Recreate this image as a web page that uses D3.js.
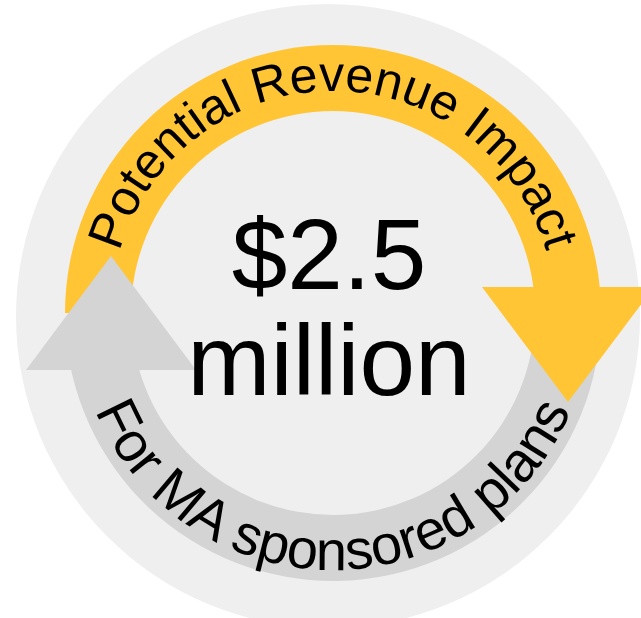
<!DOCTYPE html>
<html>
<head>
<meta charset="utf-8">
<script src="https://cdn.jsdelivr.net/npm/d3@7"></script>
<style>
  body { margin: 0; background: #fff; }
  svg { display: block; }
</style>
</head>
<body>
<div id="chart"></div>
<script>
// ring labels, the headline figure and the arc spans (degrees, 0 = 12 o'clock)
var ringLabels = ["Potential Revenue Impact", "For MA sponsored plans"]
var headline = ["$2.5", "million"]
var arcStart = [-90, 90]
var arcEnd = [90, 268]

var width = 641
var height = 618
var cx = 333, cy = 313
var innerR = 202, outerR = 268

var color = d3.scaleOrdinal().domain(ringLabels).range(["#FFC535", "#D4D4D4"])
var rad = d3.scaleLinear().domain([0, 360]).range([0, 2 * Math.PI])

var svg = d3.select("#chart")
  .append("svg")
    .attr("width", width)
    .attr("height", height)

// big pale disc behind everything
svg.append("circle")
  .attr("cx", 328)
  .attr("cy", 316)
  .attr("r", 312)
  .attr("fill", "#EFEFEF")

var g = svg.append("g")
  .attr("transform", "translate(" + cx + "," + cy + ")")

var arc = d3.arc()
  .innerRadius(innerR)
  .outerRadius(outerR)

var segs = ringLabels.map(function(d, i){
  return {name: d, startAngle: rad(arcStart[i]), endAngle: rad(arcEnd[i])}
})

// grey band first, yellow band over it
g.selectAll("path.band")
  .data([segs[1], segs[0]])
  .enter()
  .append("path")
    .attr("class", "band")
    .attr("d", arc)
    .attr("fill", function(d){ return color(d.name) })

// arrow heads
var midR = (innerR + outerR) / 2
var heads = [
  {name: ringLabels[0], x: midR, base: -26, tip: 89, half: 86},
  {name: ringLabels[1], x: -222, base: 57, tip: -57, half: 85}
]
g.selectAll("path.head")
  .data(heads)
  .enter()
  .append("path")
    .attr("class", "head")
    .attr("d", function(d){
      return "M" + (d.x - d.half) + "," + d.base +
        "L" + (d.x + d.half) + "," + d.base +
        "L" + d.x + "," + d.tip + "Z"
    })
    .attr("fill", function(d){ return color(d.name) })

// circular paths for the ring text
var topR = 222, botR = 257
var defs = svg.append("defs")
defs.append("path")
  .attr("id", "topPath")
  .attr("d", "M" + (cx - topR) + "," + cy + " A" + topR + "," + topR + " 0 0 1 " + (cx + topR) + "," + cy)
defs.append("path")
  .attr("id", "botPath")
  .attr("d", "M" + (cx - botR) + "," + cy + " A" + botR + "," + botR + " 0 0 0 " + (cx + botR) + "," + cy)

var ringText = [
  {label: ringLabels[0], path: "#topPath", size: 50},
  {label: ringLabels[1], path: "#botPath", size: 56}
]
svg.selectAll("text.ring")
  .data(ringText)
  .enter()
  .append("text")
    .attr("class", "ring")
    .attr("font-family", "'Liberation Sans', Arial, sans-serif")
    .attr("font-size", function(d){ return d.size })
    .attr("fill", "#000")
  .append("textPath")
    .attr("href", function(d){ return d.path })
    .attr("startOffset", "50%")
    .attr("text-anchor", "middle")
    .text(function(d){ return d.label })

// headline in the middle
svg.append("g")
    .attr("font-family", "'Liberation Sans', Arial, sans-serif")
    .attr("font-size", 100)
    .attr("text-anchor", "middle")
  .selectAll("text")
  .data(headline)
  .enter()
  .append("text")
    .attr("x", 329)
    .attr("y", function(d, i){ return 289 + i * 106 })
    .text(function(d){ return d })
</script>
</body>
</html>
